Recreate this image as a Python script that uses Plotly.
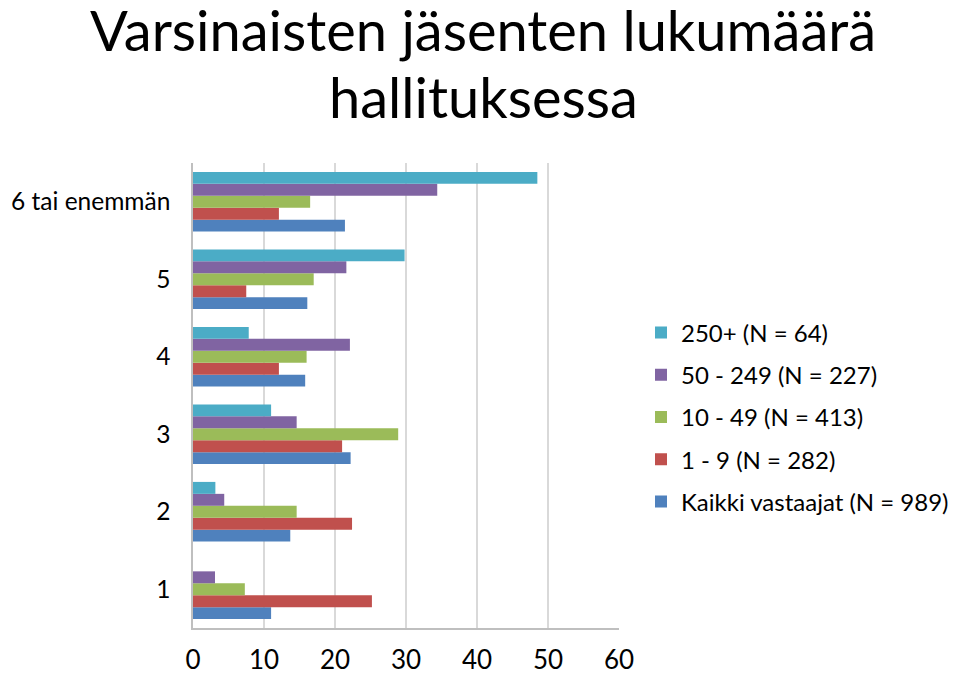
import plotly.graph_objects as go

categories = ["1", "2", "3", "4", "5", "6 tai enemmän"]
series_names = ["Kaikki vastaajat (N = 989)", "1 - 9 (N = 282)", "10 - 49 (N = 413)",
                "50 - 249 (N = 227)", "250+ (N = 64)"]
kaikki = [11.0, 13.7, 22.2, 15.8, 16.1, 21.4]
s_1_9 = [25.2, 22.4, 21.0, 12.1, 7.5, 12.1]
s_10_49 = [7.3, 14.6, 28.9, 16.0, 17.0, 16.5]
s_50_249 = [3.1, 4.4, 14.6, 22.1, 21.6, 34.4]
s_250 = [0.0, 3.15, 11.0, 7.85, 29.8, 48.5]
x_ticks = [0, 10, 20, 30, 40, 50, 60]
title_lines = ["Varsinaisten jäsenten lukumäärä", "hallituksessa"]

colors = ["#4F81BD", "#C0504D", "#9BBB59", "#8064A2", "#4BACC6"]
values = [kaikki, s_1_9, s_10_49, s_50_249, s_250]

FONT = "Lato"
fig = go.Figure()
n = len(series_names)
for i, (name, vals, c) in enumerate(zip(series_names, values, colors)):
    fig.add_trace(go.Bar(y=categories, x=vals, orientation="h", name=name,
                         legendgroup=f"g{i}", legendrank=1000 + (n - i),
                         marker=dict(color=c, line=dict(width=0))))

# plot area (page coords): left 193, right 619, top 163, bottom 628
fig.add_annotation(text=title_lines[0], xref="paper", yref="paper",
                   x=(483 - 193) / 426, y=(628 - 30) / 465, xanchor="center", yanchor="middle",
                   showarrow=False, font=dict(family=FONT, size=56, color="black"))
fig.add_annotation(text=title_lines[1], xref="paper", yref="paper",
                   x=(483 - 193) / 426, y=(628 - 96) / 465, xanchor="center", yanchor="middle",
                   showarrow=False, font=dict(family=FONT, size=56, color="black"))

fig.update_layout(
    width=952, height=666,
    paper_bgcolor="white", plot_bgcolor="white",
    barmode="group", bargap=0.23, bargroupgap=0,
    margin=dict(l=185, r=341, t=155, b=46, autoexpand=False),
    font=dict(family=FONT, color="black", size=24),
    legend=dict(traceorder="grouped", x=(641 - 193) / 426, xanchor="left",
                y=(628 - 417) / 465, yanchor="middle",
                font=dict(family=FONT, size=24), itemsizing="constant",
                tracegroupgap=8, itemwidth=30),
    showlegend=True,
    xaxis=dict(range=[0, 60], tickvals=x_ticks, showgrid=True, gridcolor="#D9D9D9",
               gridwidth=1.5, showline=True, linecolor="#BFBFBF", linewidth=1.5,
               zeroline=False, ticks="outside", ticklen=8, tickcolor="rgba(0,0,0,0)",
               tickfont=dict(size=26), automargin=False),
    yaxis=dict(categoryorder="array", categoryarray=categories, showgrid=False,
               showline=True, linecolor="#BFBFBF", linewidth=1.5,
               ticks="outside", ticklen=16, tickcolor="rgba(0,0,0,0)",
               tickfont=dict(size=24.5), range=[-0.5, 5.5], automargin=False),
)
fig.write_html("out.html")
